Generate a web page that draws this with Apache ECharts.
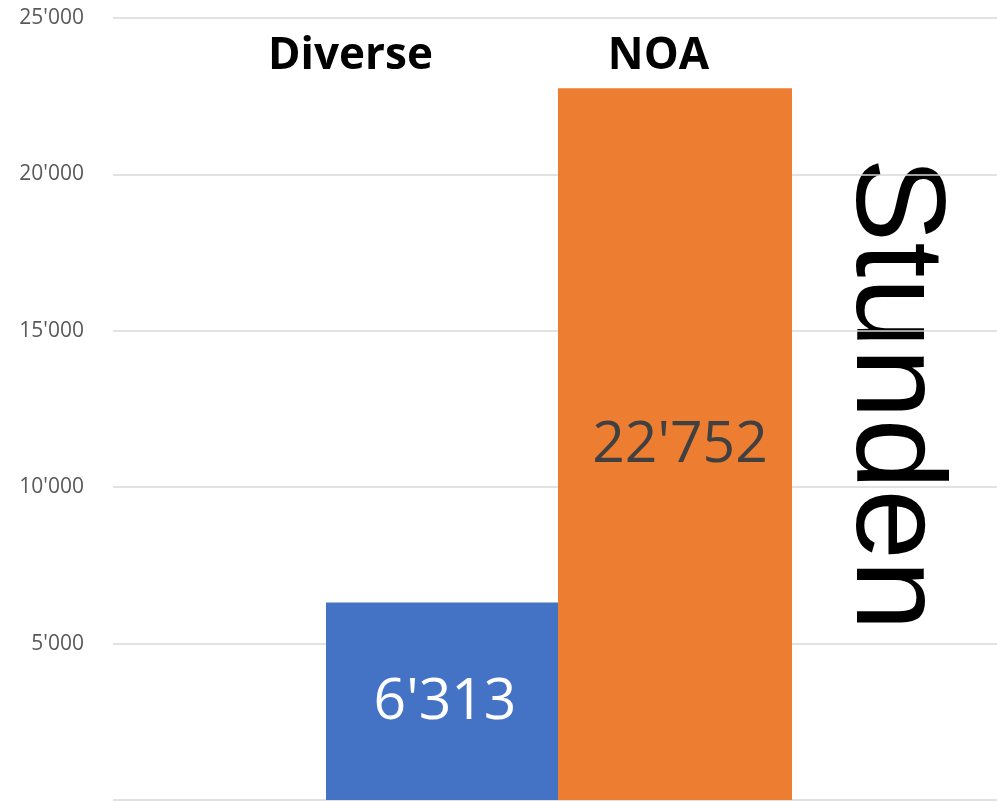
<!DOCTYPE html>
<html>
<head>
<meta charset="utf-8">
<script src="https://cdn.jsdelivr.net/npm/echarts@6/dist/echarts.min.js"></script>
<style>html,body{margin:0;padding:0;background:#fff;}#c{width:997px;height:802px;}</style>
</head>
<body>
<div id="c"></div>
<script>
var categories = ['Stunden'];
var seriesNames = ['Diverse', 'NOA'];
var diverseValues = [6313];
var noaValues = [22752];
var yTicks = [0, 5000, 10000, 15000, 20000, 25000];
var axisTitle = 'Stunden';

function fmt(v) {
  return String(Math.round(v)).replace(/\B(?=(\d{3})+(?!\d))/g, "'");
}

var chart = echarts.init(document.getElementById('c'), null, {renderer: 'canvas'});
chart.setOption({
  animation: false,
  backgroundColor: '#ffffff',
  grid: {left: 113, width: 892, top: 18, bottom: 2, containLabel: false, outerBoundsMode: 'none'},
  legend: {
    data: seriesNames,
    left: 258,
    top: 29,
    icon: 'rect',
    itemWidth: 0,
    itemHeight: 0,
    itemGap: 170,
    selectedMode: false,
    textStyle: {fontFamily: 'Open Sans', fontWeight: 'bold', fontSize: 44, color: '#000000'}
  },
  xAxis: {
    type: 'category',
    data: categories,
    axisLine: {show: false},
    axisTick: {show: false},
    axisLabel: {show: false}
  },
  yAxis: {
    type: 'value',
    min: yTicks[0],
    max: yTicks[yTicks.length - 1],
    interval: yTicks[1] - yTicks[0],
    axisLine: {show: false},
    axisTick: {show: false},
    axisLabel: {
      margin: 29,
      fontFamily: 'Open Sans',
      fontSize: 21,
      color: '#595959',
      formatter: function (v) { return v === 0 ? '' : fmt(v); }
    },
    splitLine: {lineStyle: {color: '#d9d9d9', width: 1.5}}
  },
  series: [
    {
      name: seriesNames[0],
      type: 'bar',
      data: diverseValues,
      barWidth: 232,
      barGap: '0%',
      itemStyle: {color: '#4472C4'},
      label: {
        show: true,
        position: 'inside',
        offset: [3, 2],
        fontFamily: 'Open Sans',
        fontSize: 57,
        color: '#ffffff',
        formatter: function (p) { return fmt(p.value); }
      }
    },
    {
      name: seriesNames[1],
      type: 'bar',
      data: noaValues,
      barWidth: 234,
      barGap: '0%',
      itemStyle: {color: '#ED7D31'},
      label: {
        show: true,
        position: 'inside',
        offset: [5, 2],
        fontFamily: 'Open Sans',
        fontSize: 57,
        color: '#404040',
        formatter: function (p) { return fmt(p.value); }
      }
    }
  ],
  graphic: [{
    type: 'text',
    x: 892,
    y: 394,
    rotation: -Math.PI / 2,
    style: {
      text: axisTitle,
      font: '127px "Liberation Sans"',
      fill: '#000000',
      align: 'center',
      verticalAlign: 'middle'
    }
  }]
});
</script>
</body>
</html>
